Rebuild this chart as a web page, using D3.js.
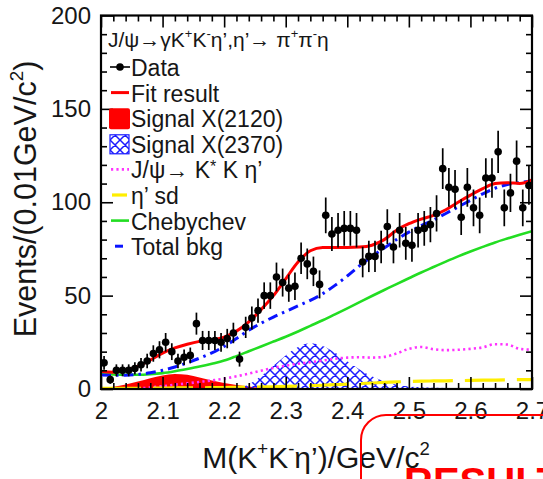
<!DOCTYPE html>
<html>
<head>
<meta charset="utf-8">
<script src="https://cdn.jsdelivr.net/npm/d3@7"></script>
<style>
  html, body { margin: 0; padding: 0; background: #fff; }
  svg { display: block; font-family: "Liberation Sans", Arial, Helvetica, sans-serif; }
</style>
</head>
<body>
<svg id="chart" width="543" height="479"></svg>
<script>
// ---- Data: M(K+K-eta') spectrum, 0.01 GeV/c^2 bins ----
const massBins = [
  2.005, 2.015, 2.025, 2.035, 2.045, 2.055, 2.065, 2.075, 2.085, 2.095,
  2.105, 2.115, 2.125, 2.135, 2.145, 2.155, 2.165, 2.175, 2.185, 2.195,
  2.205, 2.215, 2.225, 2.235, 2.245, 2.255, 2.265, 2.275, 2.285, 2.295,
  2.305, 2.315, 2.325, 2.335, 2.345, 2.355, 2.365, 2.375, 2.385, 2.395,
  2.405, 2.415, 2.425, 2.435, 2.445, 2.455, 2.465, 2.475, 2.485, 2.495,
  2.505, 2.515, 2.525, 2.535, 2.545, 2.555, 2.565, 2.575, 2.585, 2.595,
  2.605, 2.615, 2.625, 2.635, 2.645, 2.655, 2.665, 2.675, 2.685, 2.695
];
const events = [
  14, 5, 10, 10, 10, 11, 13, 15, 19, 21,
  25, 20, 15, 17, 18, 35, 26, 26, 26, 25,
  27, 30, 16, 33, 38, 42, 50, 50, 60, 57,
  54, 55, 70, 67, 63, 56, 93, 83, 85, 86,
  86, 85, 68, 71, 71, 76, 87, 76, 85, 78,
  77, 85, 86, 88, 94, 118, 108, 107, 92, 108,
  97, 93, 113, 113, 127, 97, 105, 122, 97, 109
];
const eventErr = [
  3.7, 2.2, 3.2, 3.2, 3.2, 3.3, 3.6, 3.9, 4.4, 4.6,
  5.0, 4.5, 3.9, 4.1, 4.2, 5.9, 5.1, 5.1, 5.1, 5.0,
  5.2, 5.5, 4.0, 5.7, 6.2, 6.5, 7.1, 7.1, 7.7, 7.5,
  7.3, 7.4, 8.4, 8.2, 7.9, 7.5, 9.6, 9.1, 9.2, 9.3,
  9.3, 9.2, 8.2, 8.4, 8.4, 8.7, 9.3, 8.7, 9.2, 8.8,
  8.8, 9.2, 9.3, 9.4, 9.7, 10.9, 10.4, 10.3, 9.6, 10.4,
  9.8, 9.6, 10.6, 10.6, 11.3, 9.8, 10.2, 11.0, 9.8, 10.4
];

// ---- Fit components sampled along the mass axis ----
const curveMass = [
  2.00, 2.02, 2.04, 2.06, 2.08, 2.10, 2.12, 2.14, 2.16, 2.18,
  2.20, 2.22, 2.24, 2.26, 2.28, 2.30, 2.32, 2.34, 2.36, 2.38,
  2.40, 2.42, 2.44, 2.46, 2.48, 2.50, 2.52, 2.54, 2.56, 2.58,
  2.60, 2.62, 2.64, 2.66, 2.68, 2.70
];
const fitResult = [
  9.5, 9.0, 10.0, 12.2, 15.5, 19.2, 22.0, 24.0, 25.5, 26.3,
  27.8, 31.0, 36.0, 42.5, 50.0, 59.0, 68.0, 74.0, 75.8, 75.8,
  75.8, 76.0, 77.0, 80.0, 85.0, 88.5, 91.0, 93.0, 96.0, 100.0,
  103.8, 107.3, 110.0, 110.5, 110.0, 112.0
];
const signalX2120 = [
  0.5, 1.2, 2.4, 4.0, 5.8, 7.2, 8.0, 7.6, 6.2, 4.5,
  3.2, 2.2, 1.3, 0.6, 0.2, 0, 0, 0, 0, 0,
  0, 0, 0, 0, 0, 0, 0, 0, 0, 0,
  0, 0, 0, 0, 0, 0
];
const signalX2370 = [
  0, 0, 0, 0, 0, 0, 0, 0, 0, 0,
  0, 0.2, 2.5, 7.0, 12.5, 18.0, 22.5, 24.5, 23.0, 19.5,
  14.8, 10.5, 6.8, 4.0, 2.3, 1.3, 0.9, 0.7, 0.6, 0.5,
  0.5, 0.4, 0.4, 0.3, 0.3, 0.3
];
const kstarKEtap = [
  0, 0, 0, 0.2, 0.8, 1.5, 2.3, 3.0, 3.8, 4.6,
  5.5, 6.8, 8.2, 9.8, 11.3, 12.5, 13.5, 14.3, 15.2, 16.2,
  16.8, 17.0, 16.8, 17.2, 19.0, 21.5, 22.5, 21.3, 20.8, 21.0,
  21.5, 22.3, 24.0, 23.8, 21.5, 21.0
];
const etapSideband = [
  0.3, 0.3, 0.35, 0.4, 0.45, 0.5, 0.55, 0.6, 0.65, 0.7,
  0.8, 0.9, 1.0, 1.1, 1.2, 1.4, 1.6, 1.8, 2.0, 2.3,
  2.6, 2.9, 3.2, 3.5, 3.8, 4.0, 4.2, 4.3, 4.4, 4.5,
  4.6, 4.7, 4.8, 4.9, 5.0, 5.0
];
const chebychev = [
  8.0, 7.8, 7.6, 7.6, 7.9, 8.5, 9.5, 10.7, 12.0, 13.5,
  15.2, 17.6, 20.2, 22.8, 25.4, 28.0, 30.8, 33.8, 36.8, 40.0,
  43.2, 46.5, 49.8, 53.0, 56.2, 59.3, 62.4, 65.3, 68.2, 71.0,
  73.6, 76.1, 78.5, 80.6, 82.6, 84.5
];
const totalBkg = [
  7.5, 7.4, 7.4, 7.8, 8.7, 10.0, 11.8, 14.0, 16.5, 19.3,
  22.8, 27.0, 31.5, 35.2, 38.5, 41.5, 44.5, 47.5, 51.0, 55.5,
  60.5, 66.0, 71.0, 75.5, 80.0, 84.0, 87.5, 90.5, 94.0, 97.5,
  101.0, 104.5, 107.5, 109.5, 110.5, 111.5
];

// ---- Axis ticks ----
const xTicks = [2.0, 2.1, 2.2, 2.3, 2.4, 2.5, 2.6, 2.7];
const xTickLabels = ["2", "2.1", "2.2", "2.3", "2.4", "2.5", "2.6", "2.7"];
const xMinorTicks = [2.02, 2.04, 2.06, 2.08, 2.12, 2.14, 2.16, 2.18, 2.22, 2.24, 2.26, 2.28,
  2.32, 2.34, 2.36, 2.38, 2.42, 2.44, 2.46, 2.48, 2.52, 2.54, 2.56, 2.58, 2.62, 2.64, 2.66, 2.68];
const yTicks = [0, 50, 100, 150, 200];
const yTickLabels = ["0", "50", "100", "150", "200"];
const yMinorTicks = [10, 20, 30, 40, 60, 70, 80, 90, 110, 120, 130, 140, 160, 170, 180, 190];

// ---- Text ----
const decayTitle = [["J/ψ→γK"], ["+", "sup"], ["K"], ["-", "sup"], ["η’,η’→ π"], ["+", "sup"], ["π"], ["-", "sup"], ["η"]];
const legendLabels = [
  [["Data"]],
  [["Fit result"]],
  [["Signal X(2120)"]],
  [["Signal X(2370)"]],
  [["J/ψ→ K"], ["*", "star"], [" K η’"]],
  [["η’ sd"]],
  [["Chebychev"]],
  [["Total bkg"]]
];
const xTitle = [["M(K"], ["+", "sup"], ["K"], ["-", "sup"], ["η’)/GeV/c"], ["2", "sup"]];
const yTitle = [["Events/(0.01GeV/c"], ["2", "sup"], [")"]];
const bannerText = "RESULTS";

// ---- Layout ----
const W = 543, H = 479;
const frame = { left: 101, right: 532, top: 15.5, bottom: 389 };

const svg = d3.select("#chart");
svg.append("rect").attr("width", W).attr("height", H).attr("fill", "#fff");

const x = d3.scaleLinear().domain([2.0, 2.7]).range([frame.left, frame.right]);
const y = d3.scaleLinear().domain([0, 200]).range([frame.bottom, frame.top]);

const colors = {
  fit: "#ff0000",
  x2120: "#ff0000",
  hatch: "#1a1aff",
  kstar: "#ff33ff",
  etap: "#ffee00",
  cheb: "#22dd22",
  bkg: "#0a14ff",
  text: "#161616"
};

// rich text with superscripts ("star" = small raised asterisk)
function richText(sel, segs, fs) {
  let shift = 0;
  segs.forEach(([t, kind]) => {
    const target = kind === "sup" ? -0.42 * fs : kind === "star" ? -0.3 * fs : 0;
    const ts = sel.append("tspan").text(t).attr("dy", target - shift);
    if (kind === "sup") ts.attr("font-size", fs * 0.62);
    if (kind === "star") ts.attr("font-size", fs * 0.7);
    shift = target;
  });
}

// hatch pattern for X(2370)
const defs = svg.append("defs");
const pat = defs.append("pattern")
  .attr("id", "xhatch").attr("patternUnits", "userSpaceOnUse")
  .attr("width", 10).attr("height", 10);
pat.append("path").attr("d", "M0,0 L10,10 M10,0 L0,10 M-1,9 L1,11 M9,-1 L11,1 M-1,1 L1,-1 M9,11 L11,9")
  .attr("stroke", colors.hatch).attr("stroke-width", 1.5).attr("fill", "none");

defs.append("clipPath").attr("id", "plotClip").append("rect")
  .attr("x", frame.left).attr("y", frame.top)
  .attr("width", frame.right - frame.left).attr("height", frame.bottom - frame.top);

const plot = svg.append("g").attr("clip-path", "url(#plotClip)");

const pts = arr => curveMass.map((m, i) => [m, arr[i]]);
const line = d3.line().x(d => x(d[0])).y(d => y(d[1])).curve(d3.curveMonotoneX);
const area = d3.area().x(d => x(d[0])).y0(y(0)).y1(d => y(d[1])).curve(d3.curveMonotoneX);

// signal components
plot.append("path").attr("d", area(pts(signalX2120))).attr("fill", colors.x2120);
plot.append("path").attr("d", area(pts(signalX2370))).attr("fill", "url(#xhatch)");

// background components
plot.append("path")
  .attr("d", line.defined(d => d[1] > 0)(pts(kstarKEtap)))
  .attr("fill", "none").attr("stroke", colors.kstar).attr("stroke-width", 2.6)
  .attr("stroke-dasharray", "2.2,3.2");
line.defined(() => true);

plot.append("path").attr("d", line(pts(etapSideband)))
  .attr("fill", "none").attr("stroke", colors.etap).attr("stroke-width", 3.2)
  .attr("stroke-dasharray", "40,12");

plot.append("path").attr("d", line(pts(chebychev)))
  .attr("fill", "none").attr("stroke", colors.cheb).attr("stroke-width", 2.6);

plot.append("path").attr("d", line(pts(totalBkg)))
  .attr("fill", "none").attr("stroke", colors.bkg).attr("stroke-width", 3)
  .attr("stroke-dasharray", "10,5,2.5,5");

plot.append("path").attr("d", line(pts(fitResult)))
  .attr("fill", "none").attr("stroke", colors.fit).attr("stroke-width", 3);

// data points with errors
const dataG = plot.append("g");
massBins.forEach((m, i) => {
  dataG.append("line")
    .attr("x1", x(m)).attr("x2", x(m))
    .attr("y1", y(events[i] - eventErr[i])).attr("y2", y(events[i] + eventErr[i]))
    .attr("stroke", "#000").attr("stroke-width", 1.7);
  dataG.append("circle").attr("cx", x(m)).attr("cy", y(events[i])).attr("r", 3.8).attr("fill", "#000");
});

// ---- Axes (ticks drawn inside the frame) ----
const tickFont = 24;
function styleAxis(g) {
  g.select(".domain").remove();
  g.selectAll(".tick line").attr("stroke", "#000").attr("stroke-width", 1.6);
  g.selectAll("text").attr("fill", colors.text).attr("font-size", tickFont)
    .attr("font-family", "Liberation Sans, Arial, sans-serif");
}
svg.append("g").attr("transform", `translate(0,${frame.bottom})`)
  .call(d3.axisBottom(x).tickValues(xTicks).tickFormat((d, i) => xTickLabels[i])
    .tickSizeInner(-12).tickSizeOuter(0).tickPadding(13))
  .call(styleAxis);
svg.append("g").attr("transform", `translate(0,${frame.bottom})`)
  .call(d3.axisBottom(x).tickValues(xMinorTicks).tickFormat("").tickSizeInner(-6).tickSizeOuter(0))
  .call(styleAxis);
svg.append("g").attr("transform", `translate(0,${frame.top})`)
  .call(d3.axisTop(x).tickValues(xTicks).tickFormat("").tickSizeInner(-12).tickSizeOuter(0))
  .call(styleAxis);
svg.append("g").attr("transform", `translate(0,${frame.top})`)
  .call(d3.axisTop(x).tickValues(xMinorTicks).tickFormat("").tickSizeInner(-6).tickSizeOuter(0))
  .call(styleAxis);
svg.append("g").attr("transform", `translate(${frame.left},0)`)
  .call(d3.axisLeft(y).tickValues(yTicks).tickFormat((d, i) => yTickLabels[i])
    .tickSizeInner(-12).tickSizeOuter(0).tickPadding(10))
  .call(styleAxis);
svg.append("g").attr("transform", `translate(${frame.left},0)`)
  .call(d3.axisLeft(y).tickValues(yMinorTicks).tickFormat("").tickSizeInner(-6).tickSizeOuter(0))
  .call(styleAxis);
svg.append("g").attr("transform", `translate(${frame.right},0)`)
  .call(d3.axisRight(y).tickValues(yTicks).tickFormat("").tickSizeInner(-12).tickSizeOuter(0))
  .call(styleAxis);
svg.append("g").attr("transform", `translate(${frame.right},0)`)
  .call(d3.axisRight(y).tickValues(yMinorTicks).tickFormat("").tickSizeInner(-6).tickSizeOuter(0))
  .call(styleAxis);

svg.append("rect")
  .attr("x", frame.left).attr("y", frame.top)
  .attr("width", frame.right - frame.left).attr("height", frame.bottom - frame.top)
  .attr("fill", "none").attr("stroke", "#000").attr("stroke-width", 2.2);

// ---- Axis titles ----
const xt = svg.append("text").attr("x", 316).attr("y", 468)
  .attr("text-anchor", "middle").attr("font-size", 30).attr("fill", colors.text);
richText(xt, xTitle, 30);

const yt = svg.append("text").attr("transform", "translate(36,199) rotate(-90)")
  .attr("text-anchor", "middle").attr("font-size", 30.5).attr("fill", colors.text);
richText(yt, yTitle, 30.5);

// ---- Decay label and legend ----
const titleFont = 21;
const tt = svg.append("text").attr("x", 108).attr("y", 47)
  .attr("font-size", titleFont).attr("fill", colors.text);
richText(tt, decayTitle, titleFont);

const legFont = 23;
const legX = 131, legY0 = 76, legDy = 25.6;
const leg = svg.append("g");
legendLabels.forEach((segs, i) => {
  const t = leg.append("text").attr("x", legX).attr("y", legY0 + i * legDy)
    .attr("font-size", legFont).attr("fill", colors.text);
  richText(t, segs, legFont);
});
const symY = i => legY0 + i * legDy - 9;
// Data
leg.append("line").attr("x1", 110).attr("x2", 130).attr("y1", symY(0)).attr("y2", symY(0))
  .attr("stroke", "#000").attr("stroke-width", 1.6);
leg.append("circle").attr("cx", 120).attr("cy", symY(0)).attr("r", 3.8).attr("fill", "#000");
// Fit result
leg.append("line").attr("x1", 111).attr("x2", 129).attr("y1", symY(1)).attr("y2", symY(1))
  .attr("stroke", colors.fit).attr("stroke-width", 3);
// X(2120)
leg.append("rect").attr("x", 109).attr("y", symY(2) - 10).attr("width", 21).attr("height", 21)
  .attr("rx", 2).attr("fill", colors.x2120);
// X(2370)
leg.append("rect").attr("x", 110).attr("y", symY(3) - 9).attr("width", 19).attr("height", 19)
  .attr("fill", "url(#xhatch)").attr("stroke", colors.hatch).attr("stroke-width", 1.2);
// K* K eta'
leg.append("line").attr("x1", 111).attr("x2", 129).attr("y1", symY(4)).attr("y2", symY(4))
  .attr("stroke", colors.kstar).attr("stroke-width", 2.6).attr("stroke-dasharray", "2.2,3.2");
// eta' sd
leg.append("line").attr("x1", 112).attr("x2", 127).attr("y1", symY(5)).attr("y2", symY(5))
  .attr("stroke", colors.etap).attr("stroke-width", 3.2);
// Chebychev
leg.append("line").attr("x1", 111).attr("x2", 129).attr("y1", symY(6)).attr("y2", symY(6))
  .attr("stroke", colors.cheb).attr("stroke-width", 2.6);
// Total bkg
leg.append("line").attr("x1", 115).attr("x2", 123).attr("y1", symY(7)).attr("y2", symY(7))
  .attr("stroke", colors.bkg).attr("stroke-width", 3);

// ---- Banner box ----
svg.append("rect").attr("x", 361).attr("y", 415).attr("width", 320).attr("height", 200)
  .attr("rx", 25).attr("fill", "none").attr("stroke", "#ff0000").attr("stroke-width", 2);
svg.append("text").attr("x", 404).attr("y", 496).attr("font-size", 40).attr("font-weight", "bold")
  .attr("fill", "#ff0000").text(bannerText);
</script>
</body>
</html>
